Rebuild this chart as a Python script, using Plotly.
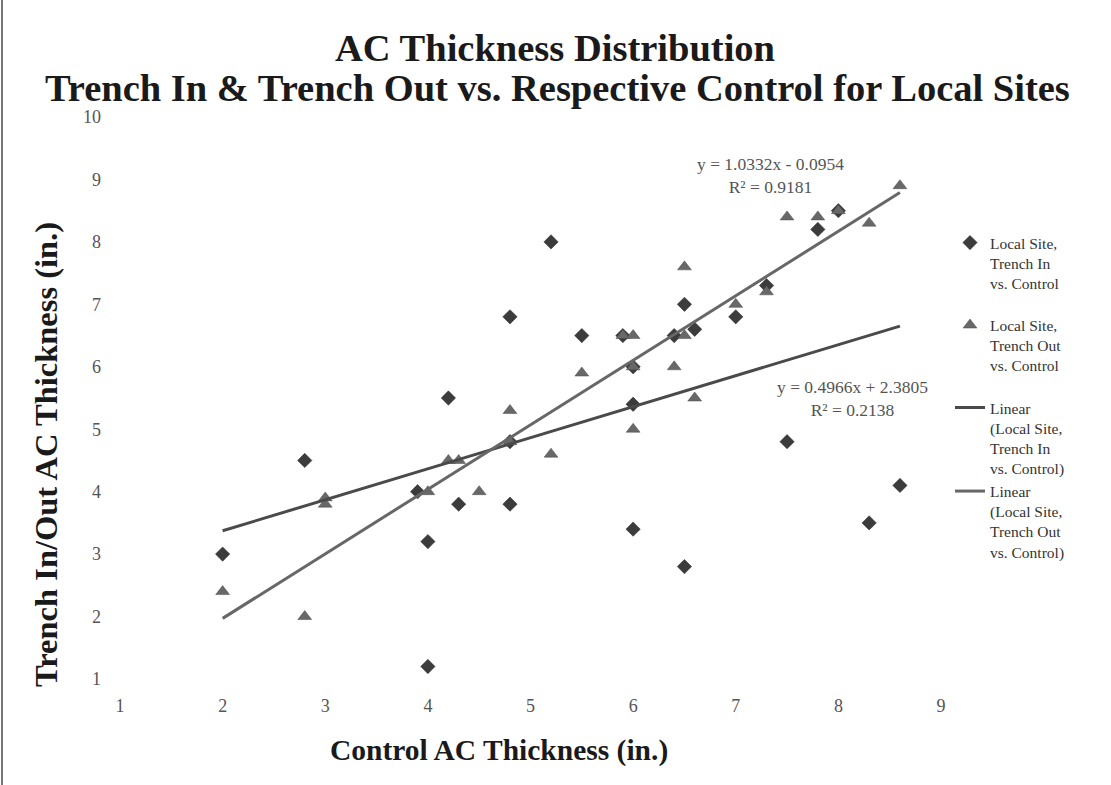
import numpy as np
import plotly.graph_objects as go

# Local Site, Trench In vs. Control (diamonds)
in_x = [2.0, 2.8, 3.9, 4.0, 4.0, 4.2, 4.3, 4.8, 4.8, 4.8, 5.2, 5.5, 5.9, 6.0, 6.0, 6.0,
        6.4, 6.5, 6.5, 6.6, 7.0, 7.3, 7.5, 7.8, 8.0, 8.3, 8.6]
in_y = [3.0, 4.5, 4.0, 3.2, 1.2, 5.5, 3.8, 6.8, 4.8, 3.8, 8.0, 6.5, 6.5, 6.0, 5.4, 3.4,
        6.5, 7.0, 2.8, 6.6, 6.8, 7.3, 4.8, 8.2, 8.5, 3.5, 4.1]

# Local Site, Trench Out vs. Control (triangles)
out_x = [2.0, 2.8, 3.0, 3.0, 4.0, 4.2, 4.3, 4.5, 4.8, 4.8, 5.2, 5.5, 5.9, 6.0, 6.0, 6.0,
         6.4, 6.5, 6.5, 6.6, 7.0, 7.3, 7.5, 7.8, 8.0, 8.3, 8.6]
out_y = [2.4, 2.0, 3.9, 3.8, 4.0, 4.5, 4.5, 4.0, 5.3, 4.8, 4.6, 5.9, 6.5, 6.5, 6.0, 5.0,
         6.0, 7.6, 6.5, 5.5, 7.0, 7.2, 8.4, 8.4, 8.5, 8.3, 8.9]

# Trendline coefficients shown on the chart
in_slope, in_intercept, in_r2 = 0.4966, 2.3805, 0.2138
out_slope, out_intercept, out_r2 = 1.0332, -0.0954, 0.9181

x_ticks = [1, 2, 3, 4, 5, 6, 7, 8, 9]
y_ticks = [1, 2, 3, 4, 5, 6, 7, 8, 9, 10]

FONT = "Liberation Serif"

in_tx = np.array([min(in_x), max(in_x)])
out_tx = np.array([min(out_x), max(out_x)])

fig = go.Figure()
fig.add_trace(go.Scatter(
    x=in_x, y=in_y, mode="markers", name="Local Site,<br>Trench In<br>vs. Control",
    legendgroup="a",
    marker=dict(symbol="diamond", size=11, color="#3c3c3c", line=dict(width=0.5, color="#222"))))
fig.add_trace(go.Scatter(
    x=out_x, y=out_y, mode="markers", name="Local Site,<br>Trench Out<br>vs. Control",
    legendgroup="b",
    marker=dict(symbol="triangle-up", size=12, color="#686868", line=dict(width=0.5, color="#4a4a4a"))))
fig.add_trace(go.Scatter(
    x=in_tx, y=in_slope * in_tx + in_intercept, mode="lines",
    name="Linear<br>(Local Site,<br>Trench In<br>vs. Control)", legendgroup="c",
    line=dict(color="#4a4a4a", width=3)))
fig.add_trace(go.Scatter(
    x=out_tx, y=out_slope * out_tx + out_intercept, mode="lines",
    name="Linear<br>(Local Site,<br>Trench Out<br>vs. Control)", legendgroup="c",
    line=dict(color="#676767", width=3)))

def eq_text(s, b, r2):
    sign = "+" if b >= 0 else "-"
    return f"y = {s:.4f}x {sign} {abs(b):.4f}<br>R² = {r2:.4f}"

annotations = [
    dict(text="<b>AC Thickness Distribution</b>", x=555, y=48),
    dict(text="<b>Trench In & Trench Out vs. Respective Control for Local Sites</b>", x=557, y=88),
]
ann = []
for a in annotations:
    ann.append(dict(text=a["text"], xref="paper", yref="paper",
                    x=(a["x"] - 120) / 821, y=(679 - a["y"]) / 562,
                    xanchor="center", yanchor="middle", showarrow=False,
                    font=dict(family=FONT, size=38.5, color="#1a1a1a")))
# axis titles
ann.append(dict(text="<b>Trench In/Out AC Thickness (in.)</b>", xref="paper", yref="paper",
                x=(46 - 120) / 821, y=(679 - 455) / 562, textangle=-90,
                xanchor="center", yanchor="middle", showarrow=False,
                font=dict(family=FONT, size=32.5, color="#1a1a1a")))
ann.append(dict(text="<b>Control AC Thickness (in.)</b>", xref="paper", yref="paper",
                x=(499 - 120) / 821, y=(679 - 750) / 562,
                xanchor="center", yanchor="middle", showarrow=False,
                font=dict(family=FONT, size=29.5, color="#1a1a1a")))
# trendline equations
ann.append(dict(text=eq_text(out_slope, out_intercept, out_r2), xref="paper", yref="paper",
                x=(770 - 120) / 821, y=(679 - 175) / 562,
                xanchor="center", yanchor="middle", showarrow=False, align="center",
                font=dict(family=FONT, size=17.5, color="#555")))
ann.append(dict(text=eq_text(in_slope, in_intercept, in_r2), xref="paper", yref="paper",
                x=(852 - 120) / 821, y=(679 - 398) / 562,
                xanchor="center", yanchor="middle", showarrow=False, align="center",
                font=dict(family=FONT, size=17.5, color="#555")))

fig.update_layout(
    width=1111, height=785,
    margin=dict(l=120, r=170, t=117, b=106),
    paper_bgcolor="white", plot_bgcolor="white",
    font=dict(family=FONT, color="#444"),
    showlegend=True,
    legend=dict(x=(950 - 120) / 821, y=(679 - 226) / 562, xanchor="left", yanchor="top",
                valign="top", tracegroupgap=19, itemwidth=30,
                font=dict(family=FONT, size=15.5, color="#333"),
                bgcolor="rgba(0,0,0,0)"),
    annotations=ann,
    shapes=[dict(type="line", xref="paper", yref="paper",
                 x0=(2 - 120) / 821, x1=(2 - 120) / 821,
                 y0=(679 - 785) / 562, y1=(679 - 0) / 562,
                 line=dict(color="#777", width=2))],
)
fig.update_xaxes(range=[1, 9], tickvals=x_ticks, showgrid=False, zeroline=False,
                 showline=False, ticks="", ticklabelstandoff=14,
                 tickfont=dict(family=FONT, size=18, color="#555"))
fig.update_yaxes(range=[1, 10], tickvals=y_ticks, showgrid=False, zeroline=False,
                 showline=False, ticks="", ticklabelstandoff=18,
                 tickfont=dict(family=FONT, size=18, color="#555"))

fig.write_html("out.html")
